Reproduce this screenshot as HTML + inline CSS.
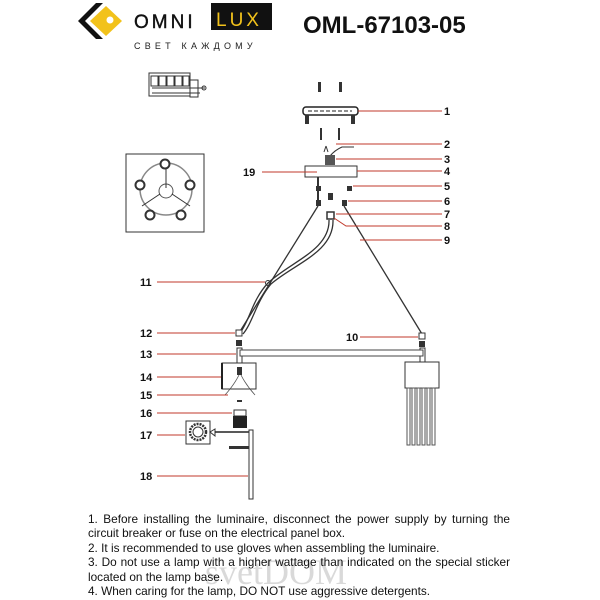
<!DOCTYPE html>
<html><head><meta charset="utf-8"><style>
html,body{margin:0;padding:0;background:#fff;width:600px;height:600px;overflow:hidden}
.t{position:absolute;left:88px;width:422px;font:11.8px "Liberation Sans",sans-serif;color:#111;line-height:14.4px;text-align:justify}
</style></head><body>
<svg width="600" height="600" style="position:absolute;left:0;top:0" font-family="Liberation Sans, sans-serif">
<!-- logo -->
<polygon points="96,3 78,21 96,39 103,39 85,21 103,3" fill="#111"/>
<polygon points="106,6 122,21 106,36 90,21" fill="#f2c21b"/>
<circle cx="110" cy="20" r="3.5" fill="#fff"/>
<text x="134" y="28" font-size="19" letter-spacing="3" fill="#111" stroke="#111" stroke-width="0.4">OMNI</text>
<rect x="211" y="3" width="61" height="27" fill="#111"/>
<text x="216" y="26" font-size="19" letter-spacing="3" fill="#f2c21b">LUX</text>
<text x="134" y="49" font-size="9" letter-spacing="4.2" fill="#222">СВЕТ КАЖДОМУ</text>
<text x="303" y="33" font-size="24" font-weight="bold" fill="#111">OML-67103-05</text>
<!-- wiring icon -->
<g stroke="#333" fill="none" stroke-width="1">
<rect x="149" y="73" width="41" height="23"/>
<rect x="151" y="76" width="7" height="10"/><rect x="159" y="76" width="7" height="10"/><rect x="167" y="76" width="7" height="10"/><rect x="175" y="76" width="7" height="10"/><rect x="183" y="76" width="6" height="10"/>
<line x1="152" y1="93" x2="200" y2="93"/><line x1="152" y1="88" x2="205" y2="88"/>
<rect x="190" y="80" width="8" height="17"/><circle cx="204" cy="88" r="2"/>
</g>
<!-- top view -->
<rect x="126" y="154" width="78" height="78" fill="none" stroke="#333"/>
<circle cx="166" cy="189" r="26" fill="none" stroke="#888" stroke-width="1.5"/>
<circle cx="166" cy="191" r="7" fill="none" stroke="#555"/>
<g stroke="#333"><line x1="166" y1="166" x2="166" y2="188"/><line x1="160" y1="194" x2="142" y2="206"/><line x1="172" y1="194" x2="190" y2="206"/></g>
<g fill="#fff" stroke="#333" stroke-width="2"><circle cx="165" cy="164" r="4.5"/><circle cx="140" cy="185" r="4.5"/><circle cx="190" cy="185" r="4.5"/><circle cx="150" cy="215" r="4.5"/><circle cx="181" cy="215" r="4.5"/></g>
<!-- canopy parts -->
<g fill="#333"><rect x="318" y="82" width="3" height="10"/><rect x="339" y="82" width="3" height="10"/><rect x="320" y="128" width="2" height="12"/><rect x="338" y="128" width="2" height="12"/></g>
<rect x="303" y="107" width="55" height="8" rx="3" fill="#fff" stroke="#222" stroke-width="1.5"/>
<line x1="308" y1="111" x2="352" y2="111" stroke="#222" stroke-dasharray="4,2"/>
<rect x="305" y="115" width="4" height="9" fill="#333"/><rect x="351" y="115" width="4" height="9" fill="#333"/>
<path d="M324,152 l2,-6 M328,152 l-2,-6 M330,156 q5,-6 12,-9 l12,0" stroke="#333" fill="none"/>
<rect x="325" y="155" width="10" height="10" fill="#555"/>
<rect x="305" y="166" width="52" height="11" fill="#fff" stroke="#333"/>
<g fill="#333"><rect x="316" y="186" width="5" height="5"/><rect x="347" y="186" width="5" height="5"/><rect x="328" y="193" width="5" height="7"/><rect x="316" y="200" width="5" height="6"/><rect x="342" y="200" width="5" height="6"/></g>
<line x1="318" y1="177" x2="318" y2="200" stroke="#333" stroke-width="2"/>
<rect x="327" y="212" width="7" height="7" fill="#fff" stroke="#333" stroke-width="1.5"/>
<!-- cables -->
<g fill="none" stroke="#333" stroke-width="1.3">
<path d="M318,206 L239,333"/>
<path d="M344,206 L422,334"/>
<path d="M329,220 C330,250 290,262 268,283 C252,300 250,320 240,333"/>
<path d="M333,220 C334,252 294,264 271,284 C256,302 253,322 243,334"/>
</g>
<circle cx="268" cy="283" r="2.5" fill="none" stroke="#333"/>
<!-- suspension parts -->
<rect x="236" y="330" width="6" height="6" fill="#fff" stroke="#333"/>
<rect x="236" y="340" width="6" height="6" fill="#333"/>
<rect x="419" y="333" width="6" height="6" fill="#fff" stroke="#333"/>
<rect x="419" y="341" width="6" height="6" fill="#333"/>
<rect x="237" y="348" width="5" height="15" fill="#fff" stroke="#333"/>
<rect x="420" y="348" width="5" height="15" fill="#fff" stroke="#333"/>
<rect x="240" y="350" width="183" height="6" fill="#fff" stroke="#444"/>
<rect x="222" y="363" width="34" height="26" fill="#fff" stroke="#333"/>
<line x1="222" y1="363" x2="222" y2="389" stroke="#222" stroke-width="2"/>
<rect x="237" y="367" width="5" height="8" fill="#333"/>
<path d="M239,375 q-5,10 -14,20 M241,375 q5,10 14,20" stroke="#555" fill="none" stroke-width="0.8"/>
<rect x="237" y="400" width="5" height="2" fill="#333"/>
<rect x="234" y="410" width="12" height="6" fill="#fff" stroke="#333"/>
<rect x="233" y="416" width="14" height="12" fill="#222"/>
<rect x="186" y="421" width="24" height="23" fill="#fff" stroke="#333"/>
<circle cx="198" cy="432" r="8" fill="none" stroke="#333" stroke-width="2.5" stroke-dasharray="2,1"/>
<circle cx="198" cy="432" r="5" fill="none" stroke="#333"/>
<path d="M210,432 L215,429 L215,436 Z" fill="none" stroke="#333"/>
<line x1="215" y1="432" x2="250" y2="432" stroke="#222" stroke-width="1.5"/>
<rect x="229" y="446" width="20" height="3" fill="#333"/>
<rect x="249" y="430" width="4" height="69" fill="#fff" stroke="#333"/>
<rect x="405" y="362" width="34" height="26" fill="#fff" stroke="#333"/>
<g fill="#fff" stroke="#555"><rect x="407" y="388" width="3" height="57"/><rect x="412" y="388" width="3" height="57"/><rect x="417" y="388" width="3" height="57"/><rect x="422" y="388" width="3" height="57"/><rect x="427" y="388" width="3" height="57"/><rect x="432" y="388" width="3" height="57"/></g>
<!-- leader lines -->
<g stroke="#c0392b" stroke-width="1">
<line x1="358" y1="111" x2="442" y2="111"/>
<line x1="336" y1="144" x2="442" y2="144"/>
<line x1="336" y1="159" x2="442" y2="159"/>
<line x1="357" y1="171" x2="442" y2="171"/>
<line x1="353" y1="186" x2="442" y2="186"/>
<line x1="348" y1="201" x2="442" y2="201"/>
<line x1="336" y1="214" x2="442" y2="214"/>
<polyline points="334,218 346,226 442,226" fill="none"/>
<line x1="360" y1="240" x2="442" y2="240"/>
<line x1="262" y1="172" x2="317" y2="172"/>
<line x1="157" y1="282" x2="265" y2="282"/>
<line x1="157" y1="333" x2="235" y2="333"/>
<line x1="157" y1="354" x2="236" y2="354"/>
<line x1="157" y1="377" x2="221" y2="377"/>
<line x1="157" y1="395" x2="228" y2="395"/>
<line x1="157" y1="413" x2="232" y2="413"/>
<line x1="157" y1="435" x2="185" y2="435"/>
<line x1="157" y1="476" x2="248" y2="476"/>
<line x1="360" y1="337" x2="418" y2="337"/>
</g>
<g font-size="11" font-weight="bold" fill="#111">
<text x="444" y="115">1</text><text x="444" y="148">2</text><text x="444" y="163">3</text><text x="444" y="175">4</text><text x="444" y="190">5</text><text x="444" y="205">6</text><text x="444" y="218">7</text><text x="444" y="230">8</text><text x="444" y="244">9</text>
<text x="243" y="176">19</text><text x="140" y="286">11</text><text x="140" y="337">12</text><text x="140" y="358">13</text><text x="140" y="381">14</text><text x="140" y="399">15</text><text x="140" y="417">16</text><text x="140" y="439">17</text><text x="140" y="480">18</text><text x="346" y="341">10</text>
</g>
<text x="205" y="584" font-size="36" font-family="Liberation Serif, serif" fill="#555" opacity="0.22">svetDOM</text>
</svg>
<div class="t" style="top:512px">1. Before installing the luminaire, disconnect the power supply by turning the circuit breaker or fuse on the electrical panel box.<br>2. It is recommended to use gloves when assembling the luminaire.<br>3. Do not use a lamp with a higher wattage than indicated on the special sticker located on the lamp base.<br>4. When caring for the lamp, DO NOT use aggressive detergents.</div>
</body></html>
